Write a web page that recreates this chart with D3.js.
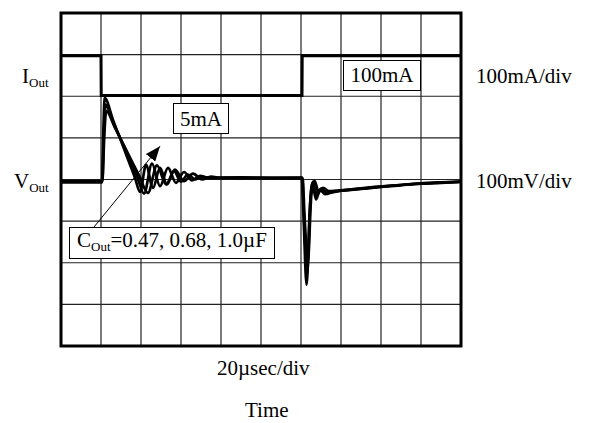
<!DOCTYPE html>
<html>
<head>
<meta charset="utf-8">
<script src="https://cdn.jsdelivr.net/npm/d3@7"></script>
<style>
  body { margin: 0; background: #fff; }
  text { font-family: "Liberation Serif", "Times New Roman", serif; fill: #000; }
</style>
</head>
<body>
<svg id="svg"></svg>
<script>
var width = 590, height = 423;

// time in usec (20 usec/div), Vout in mV (100 mV/div), Iout in mA (100 mA/div)
var timeTicks = [0, 20, 40, 60, 80, 100, 120, 140, 160, 180, 200];
var divTicks = [-4, -3, -2, -1, 0, 1, 2, 3, 4];

var iOut = [[0, 100], [20, 100], [20.1, 5], [120.5, 5], [120.6, 100], [200, 100]];

// three output capacitors: 0.47, 0.68, 1.0 uF
var vOut047 = [[0, -5], [20.5, -5], [21.2, 120], [21.8, 196], [26, 143], [30, 93], [34, 42], [37, 4],
  [39.5, -30], [42.5, 35], [46, -20], [49.5, 28], [53, -12], [56.5, 20], [60, -5], [63.5, 12], [67, 0],
  [70, 7], [75, 4], [90, 5], [110, 4], [120.4, 4], [121.2, -80], [122.8, -253], [124.3, -80], [125.6, -8],
  [127.5, -48], [129.5, -25], [132, -35], [136, -30], [145, -25], [155, -20], [165, -15], [180, -9],
  [190, -7], [200, -5]];
var vOut068 = [[0, -7], [20.6, -7], [21.4, 110], [22.2, 180], [26, 138], [30, 95], [34, 52], [38, 8],
  [41.5, -34], [45.5, 38], [49.5, -16], [53.5, 28], [57.5, -8], [61.5, 18], [65.5, -2], [69.5, 9], [74, 3],
  [80, 4], [100, 4], [120.6, 4], [121.4, -80], [123.1, -225], [124.7, -50], [126, -5], [128, -38],
  [130, -22], [133, -32], [140, -27], [150, -22], [160, -18], [170, -14], [180, -10], [190, -8], [200, -6]];
var vOut100 = [[0, -4], [20.7, -4], [21.6, 100], [22.6, 165], [27, 124], [31, 86], [35, 48], [39, 10],
  [43.5, -32], [48, 34], [52.5, -12], [57, 24], [61.5, -4], [66, 14], [70.5, 0], [75, 7], [80, 4],
  [100, 3], [120.8, 4], [121.7, -80], [123.4, -200], [125.2, -35], [126.8, -3], [128.8, -30], [131, -20],
  [134, -28], [142, -25], [152, -20], [162, -16], [172, -12], [182, -9], [192, -7], [200, -5]];

var vTraces = [vOut047, vOut068, vOut100];

var svg = d3.select("#svg")
  .attr("width", width)
  .attr("height", height);

svg.append("rect").attr("width", width).attr("height", height).attr("fill", "#fff");

var x = d3.scaleLinear().domain([0, 200]).range([61, 461]);
var y = d3.scaleLinear().domain([-4, 4]).range([346, 13]); // divisions
var vDiv = function(mV) { return y(mV / 100); };
var iOffset = 1.97;
var iDiv = function(mA) { return y(iOffset + mA / 100); };

// grid
svg.append("g")
  .selectAll("line")
  .data(timeTicks.slice(1, -1))
  .enter()
  .append("line")
  .attr("x1", function(d) { return x(d); })
  .attr("x2", function(d) { return x(d); })
  .attr("y1", y(-4))
  .attr("y2", y(4))
  .attr("stroke", "#222")
  .attr("stroke-width", 1.2);
svg.append("g")
  .selectAll("line")
  .data(divTicks.slice(1, -1))
  .enter()
  .append("line")
  .attr("y1", function(d) { return y(d); })
  .attr("y2", function(d) { return y(d); })
  .attr("x1", x(0))
  .attr("x2", x(200))
  .attr("stroke", "#222")
  .attr("stroke-width", 1.2);

// traces
var iLine = d3.line()
  .x(function(d) { return x(d[0]); })
  .y(function(d) { return iDiv(d[1]); });
svg.append("path")
  .attr("d", iLine(iOut))
  .attr("fill", "none")
  .attr("stroke", "#000")
  .attr("stroke-width", 3);

var vLine = d3.line()
  .x(function(d) { return x(d[0]); })
  .y(function(d) { return vDiv(d[1]); })
  .curve(d3.curveMonotoneX);
svg.append("g")
  .selectAll("path")
  .data(vTraces)
  .enter()
  .append("path")
  .attr("d", function(d) { return vLine(d); })
  .attr("fill", "none")
  .attr("stroke", "#000")
  .attr("stroke-width", 2.7)
  .attr("stroke-linejoin", "round");

// frame
svg.append("rect")
  .attr("x", x(0))
  .attr("y", y(4))
  .attr("width", x(200) - x(0))
  .attr("height", y(-4) - y(4))
  .attr("fill", "none")
  .attr("stroke", "#000")
  .attr("stroke-width", 3);

// arrow
var defs = svg.append("defs");
defs.append("marker")
  .attr("id", "head")
  .attr("markerUnits", "userSpaceOnUse")
  .attr("markerWidth", 16)
  .attr("markerHeight", 12)
  .attr("refX", 15)
  .attr("refY", 6)
  .attr("orient", "auto")
  .append("path")
  .attr("d", "M0,0 L15,6 L0,12 Z")
  .attr("fill", "#000");
svg.append("line")
  .attr("x1", x(16))
  .attr("y1", vDiv(-117))
  .attr("x2", x(49.5))
  .attr("y2", vDiv(80))
  .attr("stroke", "#000")
  .attr("stroke-width", 1)
  .attr("marker-end", "url(#head)");

// boxed labels
function box(x0, y0, w, h) {
  svg.append("rect")
    .attr("x", x0).attr("y", y0)
    .attr("width", w).attr("height", h)
    .attr("fill", "#fff")
    .attr("stroke", "#000")
    .attr("stroke-width", 1);
}
box(173.5, 103.5, 55, 30);
svg.append("text").attr("x", 201).attr("y", 126).attr("text-anchor", "middle")
  .style("font-size", "21px").text("5mA");
box(343.5, 60.5, 77, 30);
svg.append("text").attr("x", 382).attr("y", 82).attr("text-anchor", "middle")
  .style("font-size", "21px").text("100mA");
box(69.5, 227.5, 205, 31);
var ct = svg.append("text").attr("x", 77).attr("y", 247).style("font-size", "21px");
ct.append("tspan").text("C");
ct.append("tspan").attr("dy", 4).style("font-size", "13px").text("Out");
ct.append("tspan").attr("dy", -4).text("=0.47, 0.68, 1.0µF");

// channel labels
var il = svg.append("text").attr("x", 22).attr("y", 83).style("font-size", "21px");
il.append("tspan").text("I");
il.append("tspan").attr("dy", 4).style("font-size", "13px").text("Out");
var vl = svg.append("text").attr("x", 14).attr("y", 188).style("font-size", "21px");
vl.append("tspan").text("V");
vl.append("tspan").attr("dy", 4).style("font-size", "13px").text("Out");

svg.append("text").attr("x", 476).attr("y", 83).style("font-size", "21px").text("100mA/div");
svg.append("text").attr("x", 476).attr("y", 188).style("font-size", "21px").text("100mV/div");
svg.append("text").attr("x", 217).attr("y", 375).style("font-size", "21px").text("20µsec/div");
svg.append("text").attr("x", 245).attr("y", 417).style("font-size", "21px").text("Time");
</script>
</body>
</html>
